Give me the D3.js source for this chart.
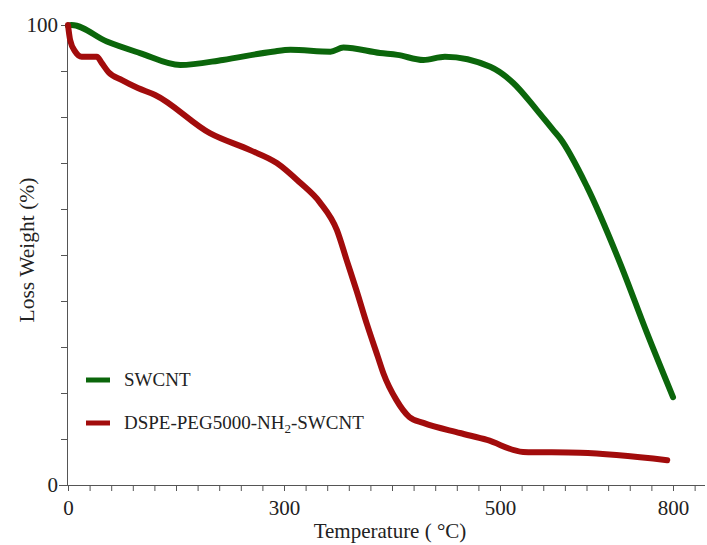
<!DOCTYPE html>
<html>
<head>
<meta charset="utf-8">
<script src="https://cdn.jsdelivr.net/npm/d3@7/dist/d3.min.js"></script>
<style>
  body { margin: 0; background: #fff; }
  svg { display: block; }
  text { font-family: "Liberation Serif", "Times New Roman", serif; fill: #222; }
</style>
</head>
<body>
<svg id="chart" width="707" height="545"></svg>
<script>
// tick labels as printed on the figure (axis is not evenly labelled)
const xTickLabels = [0, 300, 500, 800]
const yTickLabels = [0, 100]

// SWCNT: [temperature, weight %]
const swcnt = [
  [0, 99.8], [5, 100], [54, 96.4], [100, 93.9], [156, 91.3], [215, 92.4],
  [284, 94.2], [306, 94.6], [343, 94.2], [355, 95.1], [389, 93.9], [405, 93.5],
  [429, 92.4], [449, 93.1], [491, 90.9], [523, 87.4], [564, 81.5], [592, 77.2],
  [604, 75.4], [651, 64.8], [708, 48.3], [755, 33.0], [800, 19.1]
]

// DSPE-PEG5000-NH2-SWCNT
const dspe = [
  [0, 100], [3, 96.7], [10, 94.2], [19, 93.1], [31, 93.1], [40, 93.1],
  [47, 91.7], [56, 89.8], [75, 88.0], [97, 86.3], [121, 84.8],
  [197, 76.5], [253, 72.8], [290, 70.0], [315, 65.7], [333, 61.5],
  [349, 55.4], [358, 48.9], [367, 42.4], [377, 34.8], [387, 27.8], [392, 24.3],
  [404, 18.5], [416, 14.8], [429, 13.5], [463, 11.3], [488, 9.8], [540, 7.2],
  [639, 7.0], [790, 5.4]
]

const seriesNames = ['SWCNT', 'DSPE-PEG5000-NH']
const colors = ['#0b660b', '#a20c0c']

const svg = d3.select('#chart')

// piecewise scale, one segment per labelled interval
const x = d3.scaleLinear()
  .domain(xTickLabels)
  .range([68, 284, 500, 673])
const y = d3.scaleLinear()
  .domain([0, 100])
  .range([485, 25])

// minor ticks: 10 + 10 + 8 steps between the labels, one more past 800
const xMinor = []
for (let i = 0; i < 10; i++) xMinor.push(i * 30)
for (let i = 0; i < 10; i++) xMinor.push(300 + i * 20)
for (let i = 0; i <= 9; i++) xMinor.push(500 + i * 37.5)

const axisColor = '#555'

const xAxis = d3.axisBottom(x)
  .tickValues(xMinor)
  .tickSize(6)
  .tickFormat(d => xTickLabels.includes(d) ? d : '')
const gx = svg.append('g')
  .attr('transform', `translate(0,${y(0)})`)
  .call(xAxis)
gx.select('.domain').attr('d', `M59,0.5H705`)
gx.selectAll('line').attr('stroke', axisColor)
gx.select('.domain').attr('stroke', axisColor)
gx.selectAll('text')
  .attr('font-size', 21)
  .attr('font-family', '"Liberation Serif", serif')
  .attr('dy', '1.0em')
  .attr('fill', '#222')

const yAxis = d3.axisLeft(y)
  .tickValues(d3.range(0, 101, 10))
  .tickSize(7)
  .tickFormat(d => yTickLabels.includes(d) ? d : '')
const gy = svg.append('g')
  .attr('transform', `translate(${x(0)},0)`)
  .call(yAxis)
gy.select('.domain').attr('d', `M-0.5,${y(100)}V${y(0)}`).attr('stroke', axisColor)
gy.selectAll('line').attr('stroke', axisColor)
gy.selectAll('text')
  .attr('font-size', 21)
  .attr('font-family', '"Liberation Serif", serif')
  .attr('x', -10)
  .attr('fill', '#222')

const line = d3.line()
  .x(d => x(d[0]))
  .y(d => y(d[1]))
  .curve(d3.curveMonotoneX)

;[swcnt, dspe].forEach((data, i) => {
  svg.append('path')
    .datum(data)
    .attr('fill', 'none')
    .attr('stroke', colors[i])
    .attr('stroke-width', 6)
    .attr('stroke-linecap', 'round')
    .attr('stroke-linejoin', 'round')
    .attr('d', line)
})

// legend
const legendY = [380, 423]
legendY.forEach((ly, i) => {
  svg.append('line')
    .attr('x1', 86).attr('x2', 110)
    .attr('y1', ly).attr('y2', ly)
    .attr('stroke', colors[i])
    .attr('stroke-width', 5)
  const t = svg.append('text')
    .attr('x', 124)
    .attr('y', ly + 6)
    .attr('font-size', 19)
    .text(seriesNames[i])
  if (i === 1) {
    t.append('tspan').attr('font-size', 13).attr('dy', 4).text('2')
    t.append('tspan').attr('dy', -4).text('-SWCNT')
  }
})

// axis titles
svg.append('text')
  .attr('x', 390)
  .attr('y', 538)
  .attr('text-anchor', 'middle')
  .attr('font-size', 21)
  .text('Temperature ( °C)')

svg.append('text')
  .attr('transform', 'translate(34,250) rotate(-90)')
  .attr('text-anchor', 'middle')
  .attr('font-size', 21.5)
  .text('Loss Weight (%)')
</script>
</body>
</html>
